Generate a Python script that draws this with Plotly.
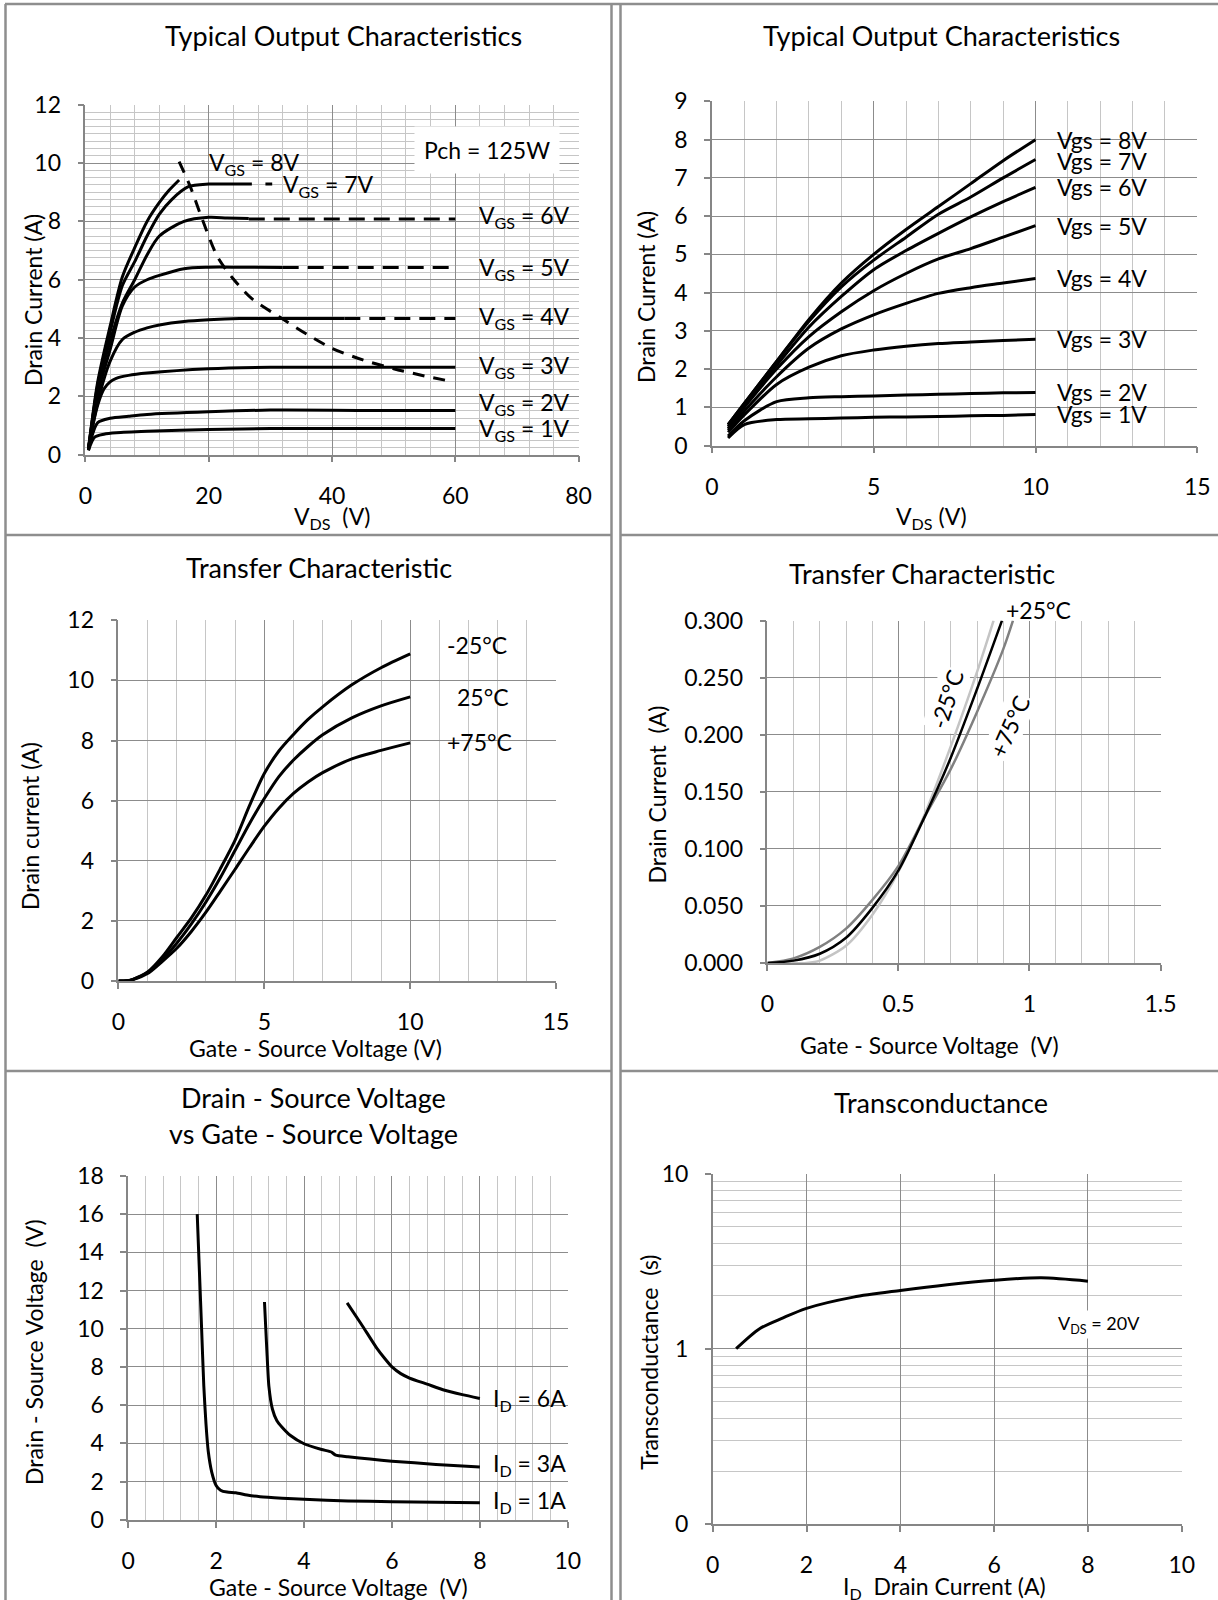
import math
import plotly.graph_objects as go

W, H = 1218, 1600
FONT = "Lato"

# ---------------- data ----------------
# Panel 1: Typical output characteristics (0-80 V)
p1_vgs1_x = [0.5, 1.5, 3, 5, 10, 20, 30, 45, 60]
p1_vgs1_y = [0.15, 0.6, 0.7, 0.75, 0.8, 0.86, 0.9, 0.9, 0.9]
p1_vgs2_x = [0.5, 1, 2, 4, 7, 10, 20, 30, 45, 60]
p1_vgs2_y = [0.15, 0.6, 1.1, 1.25, 1.32, 1.38, 1.47, 1.53, 1.52, 1.52]
p1_vgs3_x = [0.5, 1, 2, 3, 4, 5, 7, 10, 20, 30, 45, 60]
p1_vgs3_y = [0.2, 0.8, 1.7, 2.25, 2.5, 2.62, 2.72, 2.8, 2.95, 3.0, 3.0, 3.0]
p1_vgs4_x = [0.5, 2, 4, 6, 8, 10, 12, 16, 20, 25, 30, 42]
p1_vgs4_y = [0.2, 1.8, 3.2, 3.95, 4.2, 4.35, 4.45, 4.57, 4.63, 4.67, 4.67, 4.67]
p1_vgs4_dash_x = [42, 60]
p1_vgs4_dash_y = [4.67, 4.67]
p1_vgs5_x = [0.5, 2, 4, 6, 8, 10, 12, 16, 20, 25, 32]
p1_vgs5_y = [0.2, 2.1, 3.6, 5.1, 5.75, 6.0, 6.15, 6.38, 6.43, 6.43, 6.42]
p1_vgs5_dash_x = [32, 60]
p1_vgs5_dash_y = [6.42, 6.42]
p1_vgs6_x = [0.5, 2, 4, 6, 8, 10, 12, 16, 20, 23, 26.5]
p1_vgs6_y = [0.2, 2.3, 3.9, 5.2, 6.0, 6.85, 7.5, 8.0, 8.14, 8.12, 8.1]
p1_vgs6_dash_x = [26.5, 60]
p1_vgs6_dash_y = [8.08, 8.08]
p1_vgs7_x = [0.5, 2, 4, 6, 8, 10, 12, 14, 16.7, 20, 24, 27]
p1_vgs7_y = [0.2, 2.4, 4.2, 5.8, 6.62, 7.5, 8.25, 8.75, 9.19, 9.28, 9.28, 9.28]
p1_vgs7_dash_x = [29.2, 30.3]
p1_vgs7_dash_y = [9.28, 9.28]
p1_vgs8_x = [0.5, 2, 4, 6, 8, 10, 12, 13.5, 15.2]
p1_vgs8_y = [0.2, 2.5, 4.4, 6.1, 7.1, 8.0, 8.65, 9.05, 9.42]
p1_pch_x = [15.2, 17, 19, 21.4, 23.9, 27, 31.5, 36, 40, 45, 50, 55, 58.5]
p1_pch_y = [10.05, 9.2, 8.05, 6.8, 6.05, 5.35, 4.72, 4.12, 3.65, 3.25, 2.95, 2.7, 2.55]
p1_labels = ["V<sub>GS</sub> = 6V", "V<sub>GS</sub> = 5V", "V<sub>GS</sub> = 4V",
             "V<sub>GS</sub> = 3V", "V<sub>GS</sub> = 2V", "V<sub>GS</sub> = 1V"]
p1_label_y = [8.17, 6.37, 4.69, 3.01, 1.74, 0.88]

# Panel 2: Typical output characteristics (0-10 V)
p2_x = [0.5, 1, 2, 3, 4, 5, 6, 7, 8, 9, 10]
p2_vgs8 = [0.55, 1.1, 2.2, 3.3, 4.25, 5.0, 5.65, 6.25, 6.85, 7.45, 8.0]
p2_vgs7 = [0.55, 1.1, 2.2, 3.25, 4.15, 4.85, 5.45, 6.05, 6.5, 7.0, 7.48]
p2_vgs6 = [0.5, 1.05, 2.1, 3.1, 3.9, 4.6, 5.1, 5.55, 5.98, 6.38, 6.75]
p2_vgs5 = [0.45, 1.0, 2.0, 2.85, 3.5, 4.05, 4.5, 4.88, 5.15, 5.45, 5.75]
p2_vgs4 = [0.4, 0.9, 1.8, 2.55, 3.05, 3.42, 3.72, 3.98, 4.13, 4.25, 4.37]
p2_vgs3 = [0.35, 0.8, 1.6, 2.05, 2.35, 2.5, 2.6, 2.67, 2.71, 2.75, 2.78]
p2_vgs2 = [0.25, 0.65, 1.15, 1.25, 1.28, 1.3, 1.32, 1.34, 1.36, 1.38, 1.39]
p2_vgs1 = [0.2, 0.55, 0.68, 0.7, 0.72, 0.74, 0.75, 0.76, 0.78, 0.79, 0.81]
p2_labels = ["Vgs = 8V", "Vgs = 7V", "Vgs = 6V", "Vgs = 5V",
             "Vgs = 4V", "Vgs = 3V", "Vgs = 2V", "Vgs = 1V"]
p2_label_y = [8.0, 7.45, 6.75, 5.75, 4.37, 2.8, 1.4, 0.82]

# Panel 3: Transfer characteristic
p3_x = [0, 0.3, 0.5, 1, 1.5, 2, 2.5, 3, 3.5, 4, 4.5, 5, 5.5, 6, 6.5, 7, 8, 9, 10]
p3_m25 = [0, 0.01, 0.06, 0.3, 0.8, 1.45, 2.1, 2.86, 3.75, 4.69, 5.85, 6.9, 7.65, 8.2, 8.7, 9.12, 9.85, 10.42, 10.88]
p3_p25 = [0, 0.01, 0.06, 0.29, 0.72, 1.26, 1.9, 2.63, 3.45, 4.35, 5.25, 6.07, 6.8, 7.35, 7.8, 8.19, 8.75, 9.15, 9.45]
p3_p75 = [0, 0.01, 0.05, 0.25, 0.65, 1.09, 1.65, 2.29, 3.0, 3.72, 4.45, 5.15, 5.75, 6.24, 6.62, 6.93, 7.39, 7.67, 7.92]
p3_labels = ["-25°C", "25°C", "+75°C"]
p3_label_x = [12.28, 12.5, 12.38]
p3_label_y = [11.16, 9.44, 7.96]

# Panel 4: Transfer characteristic (low current)
p4_m25_x = [0, 0.15, 0.2, 0.3, 0.4, 0.5, 0.6, 0.7, 0.8, 0.863]
p4_m25_y = [0, 0, 0.002, 0.015, 0.042, 0.08, 0.13, 0.19, 0.255, 0.300]
p4_p25_x = [0, 0.1, 0.2, 0.3, 0.4, 0.5, 0.6, 0.7, 0.8, 0.895]
p4_p25_y = [0, 0.002, 0.008, 0.022, 0.048, 0.081, 0.128, 0.18, 0.24, 0.300]
p4_p75_x = [0, 0.1, 0.2, 0.3, 0.4, 0.5, 0.6, 0.7, 0.8, 0.9, 0.937]
p4_p75_y = [0, 0.004, 0.014, 0.03, 0.055, 0.085, 0.128, 0.17, 0.22, 0.275, 0.300]

# Panel 5: VDS vs VGS
p5_1a_x = [1.57, 1.62, 1.67, 1.72, 1.77, 1.82, 1.9, 2.0, 2.1, 2.25, 2.45, 2.7, 3.0, 3.5, 4.0, 5.0, 6.0, 7.0, 8.0]
p5_1a_y = [16.0, 13.0, 10.0, 7.0, 5.0, 3.6, 2.5, 1.8, 1.55, 1.45, 1.42, 1.3, 1.21, 1.13, 1.07, 0.99, 0.95, 0.92, 0.89]
p5_3a_x = [3.1, 3.13, 3.16, 3.2, 3.28, 3.38, 3.5, 3.7, 4.0, 4.4, 4.62, 4.72, 5.0, 5.5, 6.0, 7.0, 8.0]
p5_3a_y = [11.4, 10.0, 8.6, 7.0, 5.8, 5.2, 4.85, 4.4, 3.98, 3.68, 3.55, 3.38, 3.3, 3.18, 3.07, 2.9, 2.77]
p5_6a_x = [4.98, 5.3, 5.65, 5.85, 6.0, 6.2, 6.4, 6.8, 7.2, 7.6, 8.0]
p5_6a_y = [11.35, 10.25, 9.0, 8.4, 8.0, 7.65, 7.42, 7.1, 6.78, 6.55, 6.35]
p5_labels = ["I<sub>D</sub> = 6A", "I<sub>D</sub> = 3A", "I<sub>D</sub> = 1A"]
p5_label_y = [6.3, 2.91, 0.95]

# Panel 6: Transconductance
p6_x = [0.5, 1, 1.5, 2, 3, 4, 5, 6, 7, 8]
p6_y = [1.0, 1.3, 1.5, 1.7, 1.97, 2.15, 2.32, 2.46, 2.54, 2.43]
p6_label_x = 8.24
p6_label_y = 1.38

# ---------------- helpers ----------------
def dx(l, r):
    return [l / W, r / W]

def dy(t, b):
    return [1 - b / H, 1 - t / H]

def px(x):
    return x / W

def py(y):
    return 1 - y / H

AXC = "#868686"
MAJ = "#8c8c8c"
MIN = "#c6c6c6"
TICK = 23
LAB = 23
TITLE = 27

def xaxis(domain, rng, dtick, anchor, minor=None, **kw):
    d = dict(domain=domain, range=rng, dtick=dtick, tick0=0, anchor=anchor,
             showline=True, linecolor=AXC, linewidth=1.5, ticks="outside",
             ticklen=6, tickcolor=AXC, tickwidth=1.5, showgrid=True,
             gridcolor=MAJ, gridwidth=1.3, zeroline=False, automargin=False,
             tickfont=dict(family=FONT, size=TICK, color="black"),
             ticklabelstandoff=14)
    if minor is not None:
        d["minor"] = dict(dtick=minor, tick0=0, showgrid=True, gridcolor=MIN,
                          gridwidth=1, ticks="")
    d.update(kw)
    return d

def yaxis(domain, rng, dtick, anchor, minor=None, **kw):
    d = dict(domain=domain, range=rng, dtick=dtick, tick0=0, anchor=anchor,
             showline=True, linecolor=AXC, linewidth=1.5, ticks="outside",
             ticklen=6, tickcolor=AXC, tickwidth=1.5, showgrid=True,
             gridcolor=MAJ, gridwidth=1.3, zeroline=False, automargin=False,
             tickfont=dict(family=FONT, size=TICK, color="black"),
             ticklabelstandoff=12)
    if minor is not None:
        d["minor"] = dict(dtick=minor, tick0=0, showgrid=True, gridcolor=MIN,
                          gridwidth=1, ticks="")
    d.update(kw)
    return d

fig = go.Figure()

def line(x, y, ax, color="black", width=3, dash=None, smooth=0.8):
    fig.add_trace(go.Scatter(
        x=x, y=y, xaxis="x" + ax, yaxis="y" + ax, mode="lines",
        line=dict(color=color, width=width, dash=dash, shape="spline",
                  smoothing=smooth),
        showlegend=False, hoverinfo="skip"))

# Panel 1
for xs, ys in [(p1_vgs1_x, p1_vgs1_y), (p1_vgs2_x, p1_vgs2_y), (p1_vgs3_x, p1_vgs3_y),
               (p1_vgs4_x, p1_vgs4_y), (p1_vgs5_x, p1_vgs5_y), (p1_vgs6_x, p1_vgs6_y),
               (p1_vgs7_x, p1_vgs7_y), (p1_vgs8_x, p1_vgs8_y)]:
    line(xs, ys, "")
for xs, ys in [(p1_vgs4_dash_x, p1_vgs4_dash_y), (p1_vgs5_dash_x, p1_vgs5_dash_y),
               (p1_vgs6_dash_x, p1_vgs6_dash_y)]:
    line(xs, ys, "", dash="16px,9px")
line(p1_vgs7_dash_x, p1_vgs7_dash_y, "")
line(p1_pch_x, p1_pch_y, "", width=3, dash="12px,9px")

# Panel 2
for ys in [p2_vgs8, p2_vgs7, p2_vgs6, p2_vgs5, p2_vgs4, p2_vgs3, p2_vgs2, p2_vgs1]:
    line(p2_x, ys, "2")

# Panel 3
for ys in [p3_m25, p3_p25, p3_p75]:
    line(p3_x, ys, "3")

# Panel 4
line(p4_m25_x, p4_m25_y, "4", color="#c4c4c4", width=2.5)
line(p4_p75_x, p4_p75_y, "4", color="#808080", width=2.5)
line(p4_p25_x, p4_p25_y, "4", color="black", width=2.5)

# Panel 5
line(p5_1a_x, p5_1a_y, "5", smooth=0.6)
line(p5_3a_x, p5_3a_y, "5", smooth=0.6)
line(p5_6a_x, p5_6a_y, "5", smooth=0.6)

# Panel 6
line(p6_x, p6_y, "6")

minor_log = [0.2, 0.3, 0.4, 0.5, 0.6, 0.7, 0.8, 0.9, 2, 3, 4, 5, 6, 7, 8, 9]

layout = dict(
    width=W, height=H, margin=dict(l=0, r=0, t=0, b=0, pad=0, autoexpand=False),
    paper_bgcolor="white", plot_bgcolor="white", showlegend=False,
    font=dict(family=FONT, size=TICK, color="black"),
    xaxis=xaxis(dx(85.4, 578.6), [0, 80], 20, "y", minor=4),
    yaxis=yaxis(dy(104.8, 454.7), [0, 12], 2, "x", minor=0.25),
    xaxis2=xaxis(dx(711.9, 1197.3), [0, 15], 5, "y2", minor=1),
    yaxis2=yaxis(dy(101.4, 445.6), [0, 9], 1, "x2"),
    xaxis3=xaxis(dx(118.4, 556.1), [0, 15], 5, "y3", minor=1),
    yaxis3=yaxis(dy(620.2, 981.1), [0, 12], 2, "x3"),
    xaxis4=xaxis(dx(767.4, 1160.5), [0, 1.5], 0.5, "y4", minor=0.1),
    yaxis4=yaxis(dy(620.6, 962.9), [0, 0.3], 0.05, "x4", tickformat=".3f"),
    xaxis5=xaxis(dx(128.2, 567.8), [0, 10], 2, "y5", minor=0.4),
    yaxis5=yaxis(dy(1175.9, 1519.8), [0, 18], 2, "x5"),
    xaxis6=xaxis(dx(712.7, 1181.8), [0, 10], 2, "y6"),
    yaxis6=yaxis(dy(1173.5, 1523.9), [-1, 1], None, "x6", type="log",
                 tickmode="array", tickvals=[0.1, 1, 10], ticktext=["0", "1", "10"]),
)
layout["yaxis6"]["minor"] = dict(tickmode="array", tickvals=minor_log, showgrid=True,
                                 gridcolor=MIN, gridwidth=1, ticks="")
layout["yaxis6"].pop("dtick")
layout["yaxis6"].pop("tick0")
fig.update_layout(**layout)

ann = []

def ptext(x, y, text, size=LAB, **kw):
    d = dict(x=px(x), y=py(y), xref="paper", yref="paper", text=text, showarrow=False,
             font=dict(family=FONT, size=size, color="black"), xanchor="center",
             yanchor="middle")
    d.update(kw)
    ann.append(d)

# titles
ptext(343.7, 35.5, "Typical Output Characteristics", size=TITLE)
ptext(941.9, 35.5, "Typical Output Characteristics", size=TITLE)
ptext(319.3, 567.9, "Transfer Characteristic", size=TITLE)
ptext(921.6, 573, "Transfer Characteristic", size=TITLE)
ptext(313.5, 1097.4, "Drain - Source Voltage", size=TITLE)
ptext(313.5, 1133.2, "vs Gate - Source Voltage", size=TITLE)
ptext(940.7, 1102.5, "Transconductance", size=TITLE)

# axis titles
ptext(332, 517, "V<sub>DS</sub>\u00a0\u00a0(V)")
ptext(931.3, 517, "V<sub>DS</sub> (V)")
ptext(315.5, 1048, "Gate - Source Voltage (V)")
ptext(929, 1045, "Gate - Source Voltage\u00a0\u00a0(V)")
ptext(338.4, 1587, "Gate - Source Voltage\u00a0\u00a0(V)")
ptext(944, 1587, "I<sub>D</sub>\u00a0\u00a0Drain Current (A)")
ptext(33, 300, "Drain Current (A)", textangle=-90)
ptext(646, 297, "Drain Current (A)", textangle=-90)
ptext(30, 826, "Drain current (A)", textangle=-90)
ptext(656.6, 795, "Drain Current\u00a0\u00a0(A)", textangle=-90)
ptext(34, 1352, "Drain - Source Voltage\u00a0\u00a0(V)", textangle=-90)
ptext(648.8, 1362, "Transconductance\u00a0\u00a0(s)", textangle=-90)

# panel 4 "+25°C" sits just above the plot top, so place it in page coordinates
ptext(1038, 610, "+25°C")

def dtext(ax, x, y, text, size=LAB, **kw):
    d = dict(x=x, y=y, xref="x" + ax, yref="y" + ax, text=text, showarrow=False,
             font=dict(family=FONT, size=size, color="black"), xanchor="left",
             yanchor="middle")
    d.update(kw)
    ann.append(d)

# panel 1 labels
for t, yv in zip(p1_labels, p1_label_y):
    dtext("", 63.5, yv, t)
dtext("", 19.8, 9.97, "V<sub>GS</sub> = 8V")
dtext("", 31.8, 9.24, "V<sub>GS</sub> = 7V")
dtext("", 65.2, 10.46, "Pch = 125W", xanchor="center", bgcolor="white", borderpad=9)

# panel 2 labels
for t, yv in zip(p2_labels, p2_label_y):
    dtext("2", 10.6, yv, t)

# panel 3 labels
for t, xv, yv in zip(p3_labels, p3_label_x, p3_label_y):
    dtext("3", xv, yv, t, xanchor="center")

# panel 4 rotated labels
dtext("4", 0.685, 0.231, "-25°C", xanchor="center", textangle=-72, bgcolor="white")
dtext("4", 0.922, 0.207, "+75°C", xanchor="center", textangle=-66, bgcolor="white")

# panel 5 labels
for t, yv in zip(p5_labels, p5_label_y):
    dtext("5", 8.25, yv, t)

# panel 6 label (log axis: annotation y given as log10)
dtext("6", p6_label_x, math.log10(p6_label_y), "V<sub>DS</sub> = 20V", size=18,
      xanchor="center", bgcolor="white")

fig.update_layout(annotations=ann)

# cell borders
BC = "#8e8e8e"
shapes = []

def seg(x0, y0, x1, y1):
    shapes.append(dict(type="line", xref="paper", yref="paper", x0=px(x0), y0=py(y0),
                       x1=px(x1), y1=py(y1), line=dict(color=BC, width=2.5)))

seg(5, 4, 1218, 4)
seg(5.5, 4, 5.5, 1600)
seg(611.5, 4, 611.5, 1600)
seg(620.5, 4, 620.5, 1600)
seg(5, 535, 611.5, 535)
seg(620.5, 535, 1218, 535)
seg(5, 1071, 611.5, 1071)
seg(620.5, 1071, 1218, 1071)
fig.update_layout(shapes=shapes)

fig.write_html(
    "out.html",
    config={"displayModeBar": False},
    post_script="document.body.style.margin='0px';"
                "document.documentElement.style.overflow='hidden';",
)
